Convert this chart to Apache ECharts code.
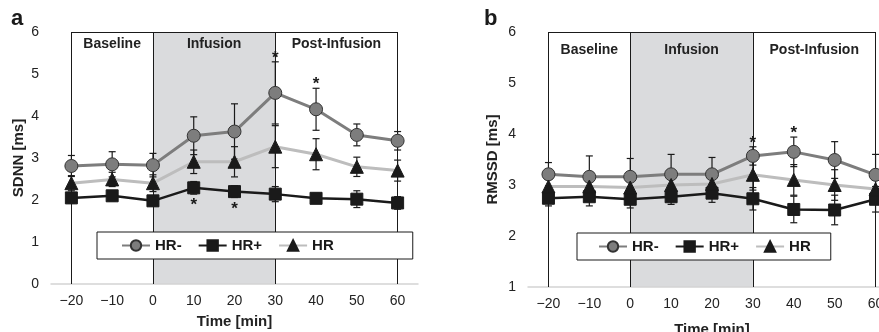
<!DOCTYPE html>
<html>
<head>
<meta charset="utf-8">
<script src="https://cdn.jsdelivr.net/npm/echarts@6/dist/echarts.min.js"></script>
<style>
  html, body { margin: 0; padding: 0; background: #fff; overflow: hidden; }
  /* the right panel runs past the window edge in the original, so the canvas is a bit wider */
  #chart { width: 900px; height: 332px; }
</style>
</head>
<body>
<div id="chart"></div>
<script>
// time points (min) shared by both panels
const timeLabels = ["−20", "−10", "0", "10", "20", "30", "40", "50", "60"];
const seriesNames = ["HR-", "HR+", "HR"];
const phases = ["Baseline", "Infusion", "Post-Infusion"];

// panel a: SDNN [ms], mean and error bar
const sdnnHrMinus = [2.81, 2.85, 2.83, 3.53, 3.63, 4.55, 4.16, 3.55, 3.41];
const sdnnHrMinusErr = [0.25, 0.3, 0.28, 0.45, 0.66, 0.74, 0.5, 0.26, 0.22];
const sdnnHrPlus = [2.05, 2.1, 1.98, 2.29, 2.2, 2.14, 2.04, 2.02, 1.93];
const sdnnHrPlusErr = [0.12, 0.12, 0.12, 0.15, 0.14, 0.18, 0.12, 0.2, 0.15];
const sdnnHr = [2.4, 2.49, 2.4, 2.91, 2.91, 3.27, 3.09, 2.79, 2.7];
const sdnnHrErr = [0.18, 0.17, 0.2, 0.28, 0.36, 0.5, 0.37, 0.23, 0.25];
const sdnnStarsAbove = [5, 6]; // over HR- at 30, 40
const sdnnStarsBelow = [3, 4]; // under HR+ at 10, 20

// panel b: RMSSD [ms]
const rmssdHrMinus = [3.21, 3.16, 3.16, 3.21, 3.21, 3.57, 3.65, 3.49, 3.2];
const rmssdHrMinusErr = [0.23, 0.41, 0.36, 0.39, 0.33, 0.18, 0.29, 0.36, 0.4];
const rmssdHrPlus = [2.74, 2.77, 2.72, 2.77, 2.84, 2.73, 2.52, 2.51, 2.72];
const rmssdHrPlusErr = [0.15, 0.18, 0.17, 0.15, 0.18, 0.22, 0.26, 0.29, 0.25];
const rmssdHr = [2.97, 2.97, 2.95, 3.0, 3.02, 3.2, 3.1, 3.0, 2.92];
const rmssdHrErr = [0.15, 0.18, 0.2, 0.2, 0.2, 0.3, 0.3, 0.3, 0.3];
const rmssdStarsAbove = [5, 6];
const rmssdStarsBelow = [];

const FONT = "'Liberation Sans', Arial, sans-serif";
const INK = "#1a1a1a";

const styles = [
  { symbol: "circle", size: 13, fill: "#7d7d7d", border: "#333", line: "#7d7d7d", width: 3 },
  { symbol: "rect", size: 12, fill: INK, border: INK, line: INK, width: 2.5 },
  { symbol: "triangle", size: 13, fill: INK, border: INK, line: "#bdbdbd", width: 3 },
];

function lineSeries(gridIndex, idx, values, withBox) {
  const st = styles[idx];
  const s = {
    name: seriesNames[idx],
    type: "line",
    xAxisIndex: gridIndex,
    yAxisIndex: gridIndex,
    data: values,
    symbol: st.symbol,
    symbolSize: st.size,
    showAllSymbol: true,
    z: 5,
    lineStyle: { color: st.line, width: st.width },
    itemStyle: { color: st.fill, borderColor: st.border, borderWidth: 1, opacity: 1 },
    emphasis: { disabled: true },
  };
  if (withBox) {
    s.markArea = {
      silent: true,
      z: 0,
      label: {
        position: "insideTop",
        distance: gridIndex === 0 ? 5 : 11,
        color: "#222",
        fontFamily: FONT,
        fontWeight: "bold",
        fontSize: 14,
      },
      data: [
        [{ name: phases[0], xAxis: timeLabels[0], itemStyle: { color: "rgba(0,0,0,0)" } }, { xAxis: "0" }],
        [{ name: phases[1], xAxis: "0", itemStyle: { color: "#dadbdd" } }, { xAxis: "30" }],
        [{ name: phases[2], xAxis: "30", itemStyle: { color: "rgba(0,0,0,0)" } }, { xAxis: timeLabels[8] }],
      ],
    };
    s.markLine = {
      silent: true,
      symbol: "none",
      label: { show: false },
      lineStyle: { color: INK, width: 1, type: "solid" },
      z: 1,
      data: [
        { xAxis: timeLabels[0] },
        { xAxis: "0" },
        { xAxis: "30" },
        { xAxis: timeLabels[8] },
        [{ coord: [timeLabels[0], 6] }, { coord: [timeLabels[8], 6] }],
      ],
    };
  }
  return s;
}

function errorSeries(gridIndex, values, errs) {
  return {
    type: "custom",
    xAxisIndex: gridIndex,
    yAxisIndex: gridIndex,
    silent: true,
    z: 3,
    data: values.map((v, i) => [i, v, errs[i]]),
    encode: { x: 0, y: 1 },
    renderItem: (params, api) => {
      const i = api.value(0);
      const v = api.value(1);
      const e = api.value(2);
      const hi = api.coord([i, v + e]);
      const lo = api.coord([i, v - e]);
      const cap = 3.5;
      const style = { stroke: INK, lineWidth: 1.2 };
      return {
        type: "group",
        children: [
          { type: "line", shape: { x1: hi[0], y1: hi[1], x2: lo[0], y2: lo[1] }, style },
          { type: "line", shape: { x1: hi[0] - cap, y1: hi[1], x2: hi[0] + cap, y2: hi[1] }, style },
          { type: "line", shape: { x1: lo[0] - cap, y1: lo[1], x2: lo[0] + cap, y2: lo[1] }, style },
        ],
      };
    },
  };
}

function starSeries(gridIndex, idxs, values, errs, above) {
  return {
    type: "custom",
    xAxisIndex: gridIndex,
    yAxisIndex: gridIndex,
    silent: true,
    z: 6,
    data: idxs.map((i) => [i, above ? values[i] + errs[i] : values[i] - errs[i]]),
    encode: { x: 0, y: 1 },
    renderItem: (params, api) => {
      const p = api.coord([api.value(0), api.value(1)]);
      return {
        type: "text",
        x: p[0],
        y: above ? p[1] + 5 : p[1] + 3,
        style: {
          text: "*",
          fill: INK,
          font: "bold 17px " + FONT,
          align: "center",
          verticalAlign: above ? "bottom" : "top",
        },
      };
    },
  };
}

function panelSeries(gridIndex, sets, starsAbove, starsBelow) {
  const out = [];
  sets.forEach(([vals, errs], k) => {
    out.push(errorSeries(gridIndex, vals, errs));
    out.push(lineSeries(gridIndex, k, vals, k === 0));
  });
  out.push(starSeries(gridIndex, starsAbove, sets[0][0], sets[0][1], true));
  out.push(starSeries(gridIndex, starsBelow, sets[1][0], sets[1][1], false));
  return out;
}

function xAxis(gridIndex, nameGap) {
  return {
    type: "category",
    gridIndex,
    data: timeLabels,
    boundaryGap: true,
    name: "Time [min]",
    nameLocation: "middle",
    nameGap,
    nameTextStyle: { fontFamily: FONT, fontWeight: "bold", fontSize: 15, color: "#222" },
    axisLine: { show: true, lineStyle: { color: "#d4d4d4", width: 1.5 } },
    axisTick: { show: false },
    axisLabel: { fontFamily: FONT, fontSize: 14, color: "#222", margin: 10 },
    splitLine: { show: false },
  };
}

function yAxis(gridIndex, name, min, nameGap) {
  return {
    type: "value",
    gridIndex,
    min,
    max: 6,
    interval: 1,
    name,
    nameLocation: "middle",
    nameRotate: 90,
    nameGap,
    nameTextStyle: { fontFamily: FONT, fontWeight: "bold", fontSize: 15, color: "#222" },
    axisLine: { show: false },
    axisTick: { show: false },
    axisLabel: { fontFamily: FONT, fontSize: 14, color: "#222", margin: 12 },
    splitLine: { show: false },
  };
}

function legend(left, top, padding) {
  return {
    left,
    top,
    z: 10,
    padding,
    itemGap: 16,
    itemWidth: 28,
    itemHeight: 13,
    backgroundColor: "#fff",
    borderColor: INK,
    borderWidth: 1,
    selectedMode: false,
    textStyle: { fontFamily: FONT, fontWeight: "bold", fontSize: 15, color: INK },
    data: seriesNames,
  };
}

const chart = echarts.init(document.getElementById("chart"), null, { renderer: "canvas" });
chart.setOption({
  animation: false,
  backgroundColor: "#fff",
  grid: [
    { left: 51, top: 32, width: 367, height: 252, outerBoundsMode: "none" },
    { left: 528, top: 32, width: 368, height: 255, outerBoundsMode: "none" },
  ],
  xAxis: [xAxis(0, 30), xAxis(1, 35)],
  yAxis: [yAxis(0, "SDNN [ms]", 0, 25), yAxis(1, "RMSSD [ms]", 1, 28)],
  legend: [legend(97, 232, [6, 79, 6, 24]), legend(577, 233, [6, 20, 6, 21])],
  graphic: [
    { type: "text", left: 11, top: 8, style: { text: "a", font: "bold 22px " + FONT, fill: INK } },
    { type: "text", left: 484, top: 8, style: { text: "b", font: "bold 22px " + FONT, fill: INK } },
  ],
  series: [
    ...panelSeries(0, [[sdnnHrMinus, sdnnHrMinusErr], [sdnnHrPlus, sdnnHrPlusErr], [sdnnHr, sdnnHrErr]], sdnnStarsAbove, sdnnStarsBelow),
    ...panelSeries(1, [[rmssdHrMinus, rmssdHrMinusErr], [rmssdHrPlus, rmssdHrPlusErr], [rmssdHr, rmssdHrErr]], rmssdStarsAbove, rmssdStarsBelow),
  ],
});
</script>
</body>
</html>
